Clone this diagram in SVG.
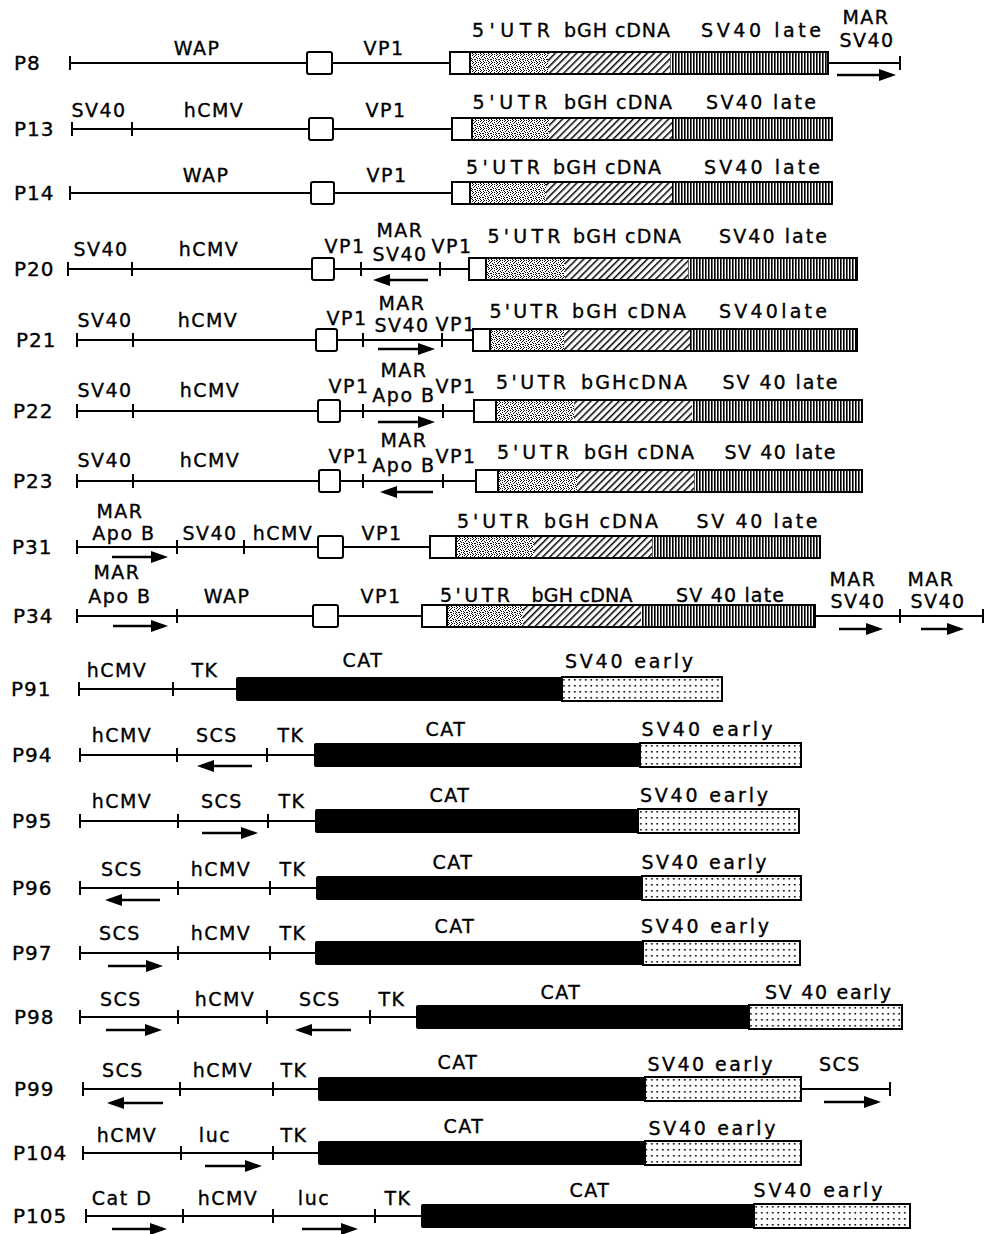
<svg xmlns="http://www.w3.org/2000/svg" width="984" height="1234" viewBox="0 0 984 1234">
<defs>
<style>
.ln{stroke:#000;stroke-width:2;fill:none}
.tk{stroke:#000;stroke-width:2;fill:none}
.bx{fill:#fff;stroke:#000;stroke-width:2}
.ol{fill:none;stroke:#000;stroke-width:2}
.cat{fill:#000}
.dt{fill:url(#dots);stroke:#000;stroke-width:2}
.ar{stroke:#000;stroke-width:2.5;marker-end:url(#ah)}
.t{font-family:"DejaVu Sans","Liberation Sans",Arial,sans-serif;font-size:19px;fill:#000;stroke:#000;stroke-width:0.35;text-anchor:middle;letter-spacing:1.5px}
.w{letter-spacing:0}
.id{text-anchor:start;letter-spacing:1px;font-size:20px}
</style>
<marker id="ah" markerUnits="userSpaceOnUse" markerWidth="17" markerHeight="12" refX="13" refY="6" orient="auto">
<path d="M0,0 L17,6 L0,12 z" fill="#000"/>
</marker>
<pattern id="stip" width="8" height="8" patternUnits="userSpaceOnUse">
<rect width="8" height="8" fill="#fff"/>
<path d="M0 0h1v1h-1z M3 0h1v1h-1z M6 1h1v1h-1z M1 2h1v1h-1z M4 2h1v1h-1z M7 3h1v1h-1z M2 4h2v1h-2z M5 5h1v1h-1z M0 6h1v1h-1z M3 6h1v1h-1z M6 7h1v1h-1z M1 7h1v1h-1z M5 3h1v1h-1z M7 5h1v1h-1z M2 1h1v1h-1z M4 7h1v1h-1z M0 4h1v1h-1z" fill="#000"/>
</pattern>
<pattern id="hatch" width="5" height="5" patternUnits="userSpaceOnUse" patternTransform="rotate(45)">
<rect width="5" height="5" fill="#fff"/><rect width="1.5" height="5" fill="#000"/>
</pattern>
<pattern id="vs" width="3" height="10" patternUnits="userSpaceOnUse">
<rect width="3" height="10" fill="#fff"/><rect width="1.6" height="10" fill="#000"/>
</pattern>
<pattern id="dots" width="5.5" height="6" patternUnits="userSpaceOnUse">
<rect width="5.5" height="6" fill="#fff"/><rect x="2" y="2" width="1.6" height="1.6" fill="#000"/>
</pattern>
</defs>
<rect width="984" height="1234" fill="#fff"/>

<g id="P8" transform="translate(0,63)">
<path class="ln" d="M70 0H900"/>
<path class="tk" d="M70 -7V7M900 -7V7"/>
<rect class="bx" x="307" y="-11" width="25" height="22" rx="2"/>
<rect x="470" y="-11" width="78" height="22" fill="url(#stip)"/>
<rect x="548" y="-11" width="122" height="22" fill="url(#hatch)"/>
<rect x="670" y="-11" width="158" height="22" fill="url(#vs)"/>
<rect class="ol" x="450" y="-11" width="378" height="22"/>
<rect class="bx" x="450" y="-11" width="20" height="22"/>
<line class="ar" x1="837" y1="12" x2="892" y2="12"/>
<text class="t id" x="14" y="7">P8</text>
<text class="t" x="197" y="-8">WAP</text>
<text class="t" x="384" y="-8">VP1</text>
<text class="t w" x="511" y="-26" textLength="78">5'UTR</text>
<text class="t w" x="617" y="-26" textLength="106">bGH cDNA</text>
<text class="t w" x="761" y="-26" textLength="120">SV40 late</text>
<text class="t" x="866" y="-39">MAR</text>
<text class="t" x="867" y="-16">SV40</text>
</g>

<g id="P13" transform="translate(0,129)">
<path class="ln" d="M72 0H452"/>
<path class="tk" d="M72 -7V7M132 -7V7"/>
<rect class="bx" x="309" y="-11" width="24" height="22" rx="2"/>
<rect x="472" y="-11" width="77" height="22" fill="url(#stip)"/>
<rect x="549" y="-11" width="123" height="22" fill="url(#hatch)"/>
<rect x="672" y="-11" width="160" height="22" fill="url(#vs)"/>
<rect class="ol" x="452" y="-11" width="380" height="22"/>
<rect class="bx" x="452" y="-11" width="20" height="22"/>
<text class="t id" x="14" y="7">P13</text>
<text class="t" x="99" y="-12">SV40</text>
<text class="t" x="214" y="-12">hCMV</text>
<text class="t" x="386" y="-12">VP1</text>
<text class="t w" x="510" y="-20" textLength="75">5'UTR</text>
<text class="t w" x="618" y="-20" textLength="108">bGH cDNA</text>
<text class="t w" x="761" y="-20" textLength="110">SV40 late</text>
</g>

<g id="P14" transform="translate(0,193)">
<path class="ln" d="M70 0H452"/>
<path class="tk" d="M70 -7V7"/>
<rect class="bx" x="311" y="-11" width="23" height="22" rx="2"/>
<rect x="470" y="-11" width="76" height="22" fill="url(#stip)"/>
<rect x="546" y="-11" width="126" height="22" fill="url(#hatch)"/>
<rect x="672" y="-11" width="160" height="22" fill="url(#vs)"/>
<rect class="ol" x="452" y="-11" width="380" height="22"/>
<rect class="bx" x="452" y="-11" width="18" height="22"/>
<text class="t id" x="14" y="7">P14</text>
<text class="t" x="206" y="-11">WAP</text>
<text class="t" x="387" y="-11">VP1</text>
<text class="t w" x="503" y="-19" textLength="74">5'UTR</text>
<text class="t w" x="607" y="-19" textLength="108">bGH cDNA</text>
<text class="t w" x="762" y="-19" textLength="116">SV40 late</text>
</g>

<g id="P20" transform="translate(0,269)">
<path class="ln" d="M68 0H469"/>
<path class="tk" d="M68 -7V7M132 -7V7M361 -7V7M440 -7V7"/>
<rect class="bx" x="312" y="-11" width="22" height="22" rx="2"/>
<rect x="486" y="-11" width="79" height="22" fill="url(#stip)"/>
<rect x="565" y="-11" width="123" height="22" fill="url(#hatch)"/>
<rect x="688" y="-11" width="169" height="22" fill="url(#vs)"/>
<rect class="ol" x="469" y="-11" width="388" height="22"/>
<rect class="bx" x="469" y="-11" width="17" height="22"/>
<line class="ar" x1="428" y1="11" x2="377" y2="11"/>
<text class="t id" x="14" y="7">P20</text>
<text class="t" x="101" y="-13">SV40</text>
<text class="t" x="209" y="-13">hCMV</text>
<text class="t" x="345" y="-16">VP1</text>
<text class="t" x="400" y="-32">MAR</text>
<text class="t" x="400" y="-8">SV40</text>
<text class="t" x="452" y="-16">VP1</text>
<text class="t w" x="524" y="-26" textLength="73">5'UTR</text>
<text class="t w" x="627" y="-26" textLength="108">bGH cDNA</text>
<text class="t w" x="773" y="-26" textLength="108">SV40 late</text>
</g>

<g id="P21" transform="translate(0,340)">
<path class="ln" d="M77 0H473"/>
<path class="tk" d="M77 -7V7M133 -7V7M363 -7V7M442 -7V7"/>
<rect class="bx" x="316" y="-11" width="21" height="22" rx="2"/>
<rect x="490" y="-11" width="74" height="22" fill="url(#stip)"/>
<rect x="564" y="-11" width="126" height="22" fill="url(#hatch)"/>
<rect x="690" y="-11" width="167" height="22" fill="url(#vs)"/>
<rect class="ol" x="473" y="-11" width="384" height="22"/>
<rect class="bx" x="473" y="-11" width="17" height="22"/>
<line class="ar" x1="378" y1="9" x2="431" y2="9"/>
<text class="t id" x="16" y="7">P21</text>
<text class="t" x="105" y="-13">SV40</text>
<text class="t" x="208" y="-13">hCMV</text>
<text class="t" x="347" y="-15">VP1</text>
<text class="t" x="402" y="-30">MAR</text>
<text class="t" x="402" y="-8">SV40</text>
<text class="t" x="456" y="-9">VP1</text>
<text class="t w" x="524" y="-22" textLength="69">5'UTR</text>
<text class="t w" x="629" y="-22" textLength="114">bGH cDNA</text>
<text class="t w" x="773" y="-22" textLength="108">SV40late</text>
</g>

<g id="P22" transform="translate(0,411)">
<path class="ln" d="M77 0H474"/>
<path class="tk" d="M77 -7V7M133 -7V7M363 -7V7M443 -7V7"/>
<rect class="bx" x="318" y="-11" width="22" height="22" rx="2"/>
<rect x="496" y="-11" width="78" height="22" fill="url(#stip)"/>
<rect x="574" y="-11" width="118" height="22" fill="url(#hatch)"/>
<rect x="692" y="-11" width="170" height="22" fill="url(#vs)"/>
<rect class="ol" x="474" y="-11" width="388" height="22"/>
<rect class="bx" x="474" y="-11" width="22" height="22"/>
<line class="ar" x1="378" y1="11" x2="431" y2="11"/>
<text class="t id" x="13" y="7">P22</text>
<text class="t" x="105" y="-14">SV40</text>
<text class="t" x="210" y="-14">hCMV</text>
<text class="t" x="349" y="-18">VP1</text>
<text class="t" x="404" y="-34">MAR</text>
<text class="t" x="404" y="-9">Apo B</text>
<text class="t" x="456" y="-18">VP1</text>
<text class="t w" x="531" y="-22" textLength="70">5'UTR</text>
<text class="t w" x="634" y="-22" textLength="106">bGHcDNA</text>
<text class="t w" x="780" y="-22" textLength="115">SV 40 late</text>
</g>

<g id="P23" transform="translate(0,481)">
<path class="ln" d="M77 0H476"/>
<path class="tk" d="M77 -7V7M133 -7V7M363 -7V7M443 -7V7"/>
<rect class="bx" x="319" y="-11" width="21" height="22" rx="2"/>
<rect x="498" y="-11" width="79" height="22" fill="url(#stip)"/>
<rect x="577" y="-11" width="117" height="22" fill="url(#hatch)"/>
<rect x="694" y="-11" width="168" height="22" fill="url(#vs)"/>
<rect class="ol" x="476" y="-11" width="386" height="22"/>
<rect class="bx" x="476" y="-11" width="22" height="22"/>
<line class="ar" x1="433" y1="11" x2="384" y2="11"/>
<text class="t id" x="13" y="7">P23</text>
<text class="t" x="105" y="-14">SV40</text>
<text class="t" x="210" y="-14">hCMV</text>
<text class="t" x="349" y="-18">VP1</text>
<text class="t" x="404" y="-34">MAR</text>
<text class="t" x="404" y="-9">Apo B</text>
<text class="t" x="456" y="-18">VP1</text>
<text class="t w" x="533" y="-22" textLength="72">5'UTR</text>
<text class="t w" x="639" y="-22" textLength="110">bGH cDNA</text>
<text class="t w" x="780" y="-22" textLength="111">SV 40 late</text>
</g>

<g id="P31" transform="translate(0,547)">
<path class="ln" d="M77 0H430"/>
<path class="tk" d="M77 -7V7M177 -7V7M244 -7V7"/>
<rect class="bx" x="318" y="-11" width="25" height="22" rx="2"/>
<rect x="456" y="-11" width="78" height="22" fill="url(#stip)"/>
<rect x="534" y="-11" width="118" height="22" fill="url(#hatch)"/>
<rect x="652" y="-11" width="168" height="22" fill="url(#vs)"/>
<rect class="ol" x="430" y="-11" width="390" height="22"/>
<rect class="bx" x="430" y="-11" width="26" height="22"/>
<line class="ar" x1="112" y1="10" x2="164" y2="10"/>
<text class="t id" x="12" y="7">P31</text>
<text class="t" x="120" y="-29">MAR</text>
<text class="t" x="124" y="-7">Apo B</text>
<text class="t" x="210" y="-7">SV40</text>
<text class="t" x="283" y="-7">hCMV</text>
<text class="t" x="382" y="-7">VP1</text>
<text class="t w" x="493" y="-19" textLength="72">5'UTR</text>
<text class="t w" x="601" y="-19" textLength="114">bGH cDNA</text>
<text class="t w" x="757" y="-19" textLength="121">SV 40 late</text>
</g>

<g id="P34" transform="translate(0,616)">
<path class="ln" d="M77 0H983"/>
<path class="tk" d="M77 -7V7M177 -7V7M900 -7V7M983 -7V7"/>
<rect class="bx" x="313" y="-11" width="25" height="22" rx="2"/>
<rect x="447" y="-11" width="76" height="22" fill="url(#stip)"/>
<rect x="523" y="-11" width="118" height="22" fill="url(#hatch)"/>
<rect x="641" y="-11" width="174" height="22" fill="url(#vs)"/>
<rect class="ol" x="422" y="-11" width="393" height="22"/>
<rect class="bx" x="422" y="-11" width="25" height="22"/>
<line class="ar" x1="113" y1="10" x2="164" y2="10"/>
<line class="ar" x1="839" y1="13" x2="879" y2="13"/>
<line class="ar" x1="921" y1="13" x2="960" y2="13"/>
<text class="t id" x="13" y="7">P34</text>
<text class="t" x="117" y="-37">MAR</text>
<text class="t" x="120" y="-13">Apo B</text>
<text class="t" x="227" y="-13">WAP</text>
<text class="t" x="381" y="-13">VP1</text>
<text class="t w" x="475" y="-14" textLength="70">5'UTR</text>
<text class="t w" x="582" y="-14" textLength="101">bGH cDNA</text>
<text class="t w" x="730" y="-14" textLength="108">SV 40 late</text>
<text class="t" x="853" y="-30">MAR</text>
<text class="t" x="858" y="-8">SV40</text>
<text class="t" x="931" y="-30">MAR</text>
<text class="t" x="938" y="-8">SV40</text>
</g>

<g id="P91" transform="translate(0,689)">
<path class="ln" d="M79 0H236"/>
<path class="tk" d="M79 -7V7M173 -7V7"/>
<rect class="dt" x="562" y="-12" width="160" height="24"/>
<rect class="cat" x="236" y="-12" width="327" height="24" rx="2"/>
<text class="t id" x="11" y="7">P91</text>
<text class="t" x="117" y="-12">hCMV</text>
<text class="t" x="205" y="-12">TK</text>
<text class="t" x="363" y="-22">CAT</text>
<text class="t w" x="629" y="-21" textLength="128">SV40 early</text>
</g>

<g id="P94" transform="translate(0,755)">
<path class="ln" d="M80 0H314"/>
<path class="tk" d="M80 -7V7M177 -7V7M267 -7V7"/>
<rect class="dt" x="640" y="-12" width="161" height="24"/>
<rect class="cat" x="314" y="-12" width="327" height="24" rx="2"/>
<line class="ar" x1="252" y1="11" x2="201" y2="11"/>
<text class="t id" x="12" y="7">P94</text>
<text class="t" x="122" y="-13">hCMV</text>
<text class="t" x="217" y="-13">SCS</text>
<text class="t" x="291" y="-13">TK</text>
<text class="t" x="446" y="-19">CAT</text>
<text class="t w" x="707" y="-19" textLength="131">SV40 early</text>
</g>

<g id="P95" transform="translate(0,821)">
<path class="ln" d="M80 0H315"/>
<path class="tk" d="M80 -7V7M178 -7V7M268 -7V7"/>
<rect class="dt" x="638" y="-12" width="161" height="24"/>
<rect class="cat" x="315" y="-12" width="324" height="24" rx="2"/>
<line class="ar" x1="202" y1="12" x2="254" y2="12"/>
<text class="t id" x="12" y="7">P95</text>
<text class="t" x="122" y="-13">hCMV</text>
<text class="t" x="222" y="-13">SCS</text>
<text class="t" x="292" y="-13">TK</text>
<text class="t" x="450" y="-19">CAT</text>
<text class="t w" x="704" y="-19" textLength="128">SV40 early</text>
</g>

<g id="P96" transform="translate(0,888)">
<path class="ln" d="M80 0H316"/>
<path class="tk" d="M80 -7V7M178 -7V7M270 -7V7"/>
<rect class="dt" x="642" y="-12" width="159" height="24"/>
<rect class="cat" x="316" y="-12" width="327" height="24" rx="2"/>
<line class="ar" x1="160" y1="12" x2="109" y2="12"/>
<text class="t id" x="12" y="7">P96</text>
<text class="t" x="122" y="-12">SCS</text>
<text class="t" x="221" y="-12">hCMV</text>
<text class="t" x="293" y="-12">TK</text>
<text class="t" x="453" y="-19">CAT</text>
<text class="t w" x="704" y="-19" textLength="125">SV40 early</text>
</g>

<g id="P97" transform="translate(0,953)">
<path class="ln" d="M80 0H315"/>
<path class="tk" d="M80 -7V7M178 -7V7M270 -7V7"/>
<rect class="dt" x="643" y="-12" width="157" height="24"/>
<rect class="cat" x="315" y="-12" width="329" height="24" rx="2"/>
<line class="ar" x1="108" y1="13" x2="159" y2="13"/>
<text class="t id" x="12" y="7">P97</text>
<text class="t" x="120" y="-13">SCS</text>
<text class="t" x="221" y="-13">hCMV</text>
<text class="t" x="293" y="-13">TK</text>
<text class="t" x="455" y="-20">CAT</text>
<text class="t w" x="705" y="-20" textLength="128">SV40 early</text>
</g>

<g id="P98" transform="translate(0,1017)">
<path class="ln" d="M80 0H416"/>
<path class="tk" d="M80 -7V7M178 -7V7M267 -7V7M370 -7V7"/>
<rect class="dt" x="749" y="-12" width="153" height="24"/>
<rect class="cat" x="416" y="-12" width="334" height="24" rx="2"/>
<line class="ar" x1="106" y1="13" x2="158" y2="13"/>
<line class="ar" x1="351" y1="13" x2="299" y2="13"/>
<text class="t id" x="14" y="7">P98</text>
<text class="t" x="121" y="-11">SCS</text>
<text class="t" x="225" y="-11">hCMV</text>
<text class="t" x="320" y="-11">SCS</text>
<text class="t" x="392" y="-11">TK</text>
<text class="t" x="561" y="-18">CAT</text>
<text class="t w" x="828" y="-18" textLength="126">SV 40 early</text>
</g>

<g id="P99" transform="translate(0,1089)">
<path class="ln" d="M83 0H890"/>
<path class="tk" d="M83 -7V7M180 -7V7M273 -7V7M890 -7V7"/>
<rect class="dt" x="645" y="-12" width="156" height="24"/>
<rect class="cat" x="318" y="-12" width="328" height="24" rx="2"/>
<line class="ar" x1="163" y1="14" x2="111" y2="14"/>
<line class="ar" x1="824" y1="13" x2="877" y2="13"/>
<text class="t id" x="14" y="7">P99</text>
<text class="t" x="123" y="-12">SCS</text>
<text class="t" x="223" y="-12">hCMV</text>
<text class="t" x="294" y="-12">TK</text>
<text class="t" x="458" y="-20">CAT</text>
<text class="t w" x="710" y="-18" textLength="125">SV40 early</text>
<text class="t" x="840" y="-18">SCS</text>
</g>

<g id="P104" transform="translate(0,1153)">
<path class="ln" d="M83 0H318"/>
<path class="tk" d="M83 -7V7M181 -7V7M273 -7V7"/>
<rect class="dt" x="645" y="-12" width="156" height="24"/>
<rect class="cat" x="318" y="-12" width="328" height="24" rx="2"/>
<line class="ar" x1="205" y1="13" x2="258" y2="13"/>
<text class="t id" x="13" y="7">P104</text>
<text class="t" x="127" y="-11">hCMV</text>
<text class="t" x="215" y="-11">luc</text>
<text class="t" x="294" y="-11">TK</text>
<text class="t" x="464" y="-20">CAT</text>
<text class="t w" x="712" y="-18" textLength="127">SV40 early</text>
</g>

<g id="P105" transform="translate(0,1216)">
<path class="ln" d="M86 0H421"/>
<path class="tk" d="M86 -7V7M183 -7V7M273 -7V7M375 -7V7"/>
<rect class="dt" x="754" y="-12" width="156" height="24"/>
<rect class="cat" x="421" y="-12" width="334" height="24" rx="2"/>
<line class="ar" x1="112" y1="13" x2="163" y2="13"/>
<line class="ar" x1="302" y1="13" x2="354" y2="13"/>
<text class="t id" x="13" y="7">P105</text>
<text class="t" x="122" y="-11">Cat D</text>
<text class="t" x="228" y="-11">hCMV</text>
<text class="t" x="314" y="-11">luc</text>
<text class="t" x="398" y="-11">TK</text>
<text class="t" x="590" y="-19">CAT</text>
<text class="t w" x="818" y="-19" textLength="129">SV40 early</text>
</g>
</svg>
